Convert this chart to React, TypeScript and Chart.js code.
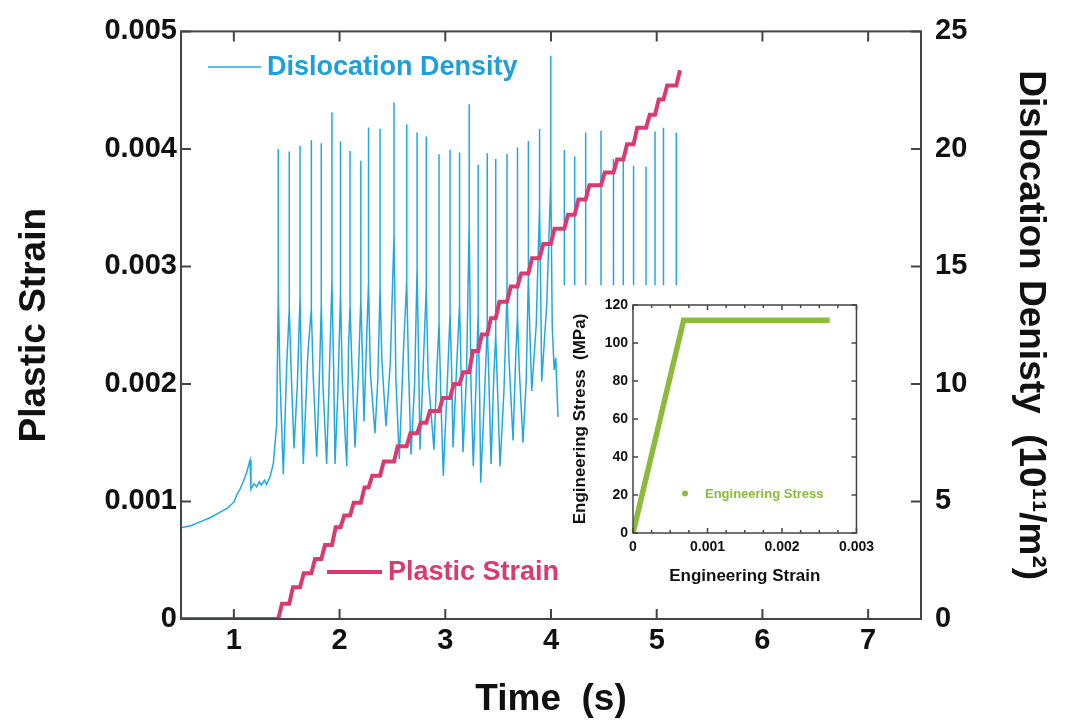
import React, { useEffect, useRef } from "react";
import { Chart, registerables } from "chart.js";

Chart.register(...registerables);

const FONT_FAMILY = '"Liberation Sans", Arial, Helvetica, sans-serif';
const BLUE = "#22A8E1";
const BLUE_TEXT = "#1C9FDA";
const PINK = "#DA3A6E";
const GREEN = "#8CBB3C";
const AXIS = "#444444";

// ---------------- main chart data ----------------
const timeTicks = [1, 2, 3, 4, 5, 6, 7];
const strainTicks = [0, 0.001, 0.002, 0.003, 0.004, 0.005];
const strainTickLabels = ["0", "0.001", "0.002", "0.003", "0.004", "0.005"];
const densityTicks = [0, 5, 10, 15, 20, 25];

// dislocation density before the oscillations (10^11 / m^2)
const earlyTimes = [0.5, 0.6, 0.68, 0.78, 0.87, 0.94, 1.0, 1.03, 1.06, 1.09, 1.12, 1.153, 1.162, 1.19, 1.216, 1.24, 1.26, 1.29, 1.31, 1.342, 1.373, 1.389, 1.405];
const earlyDensity = [3.88, 3.98, 4.13, 4.32, 4.55, 4.72, 4.97, 5.3, 5.54, 5.85, 6.22, 6.76, 5.52, 5.75, 5.62, 5.85, 5.7, 5.9, 5.72, 6.05, 6.6, 7.43, 8.26];

// oscillation cycles: spike, shoulder, trough, recovery bump
const spikeTimes = [1.42, 1.524, 1.626, 1.733, 1.827, 1.928, 2.009, 2.099, 2.201, 2.274, 2.383, 2.515, 2.635, 2.733, 2.82, 2.941, 3.045, 3.135, 3.226, 3.311, 3.397, 3.477, 3.584, 3.683, 3.786, 3.892, 3.998];
const spikePeaks = [19.99, 19.89, 20.13, 20.37, 20.24, 21.55, 20.32, 19.91, 19.5, 20.91, 20.86, 21.97, 21.05, 20.7, 20.53, 19.77, 19.97, 19.85, 21.9, 19.33, 19.82, 19.57, 19.78, 20.06, 20.34, 20.86, 23.96];
const spikeBases = [13.9, 13.2, 13.7, 13.2, 13.4, 14.4, 13.9, 13.3, 13.6, 14.3, 14.1, 16.4, 14.4, 14.9, 14.1, 12.6, 13.0, 13.4, 16.8, 13.0, 12.5, 12.1, 13.9, 12.9, 14.6, 17.6, 18.7];
const shoulderTimes = [1.437, 1.54, 1.642, 1.75, 1.843, 1.944, 2.026, 2.116, 2.216, 2.291, 2.4, 2.533, 2.652, 2.748, 2.838, 2.958, 3.06, 3.15, 3.243, 3.325, 3.413, 3.494, 3.602, 3.7, 3.8, 3.905];
const shoulderValues = [10.2, 10.8, 9.6, 10.4, 9.9, 10.6, 10.1, 10.9, 11.2, 10.5, 11.0, 10.2, 10.7, 11.0, 10.3, 9.4, 10.6, 10.4, 10.0, 9.5, 10.1, 9.8, 11.1, 10.6, 12.2, 13.0];
const troughTimes = [1.468, 1.569, 1.657, 1.784, 1.878, 1.957, 2.068, 2.146, 2.231, 2.335, 2.439, 2.565, 2.676, 2.761, 2.893, 2.981, 3.073, 3.168, 3.265, 3.335, 3.433, 3.518, 3.641, 3.735, 3.818, 3.912];
const troughValues = [6.15, 7.26, 6.6, 6.9, 6.6, 6.6, 6.5, 7.3, 8.4, 7.9, 8.2, 6.8, 7.0, 7.2, 7.2, 6.1, 7.3, 7.1, 6.5, 5.8, 6.6, 6.5, 7.6, 7.5, 9.7, 10.1];
const bumpTimes = [1.5, 1.6, 1.7, 1.808, 1.905, 1.985, 2.085, 2.178, 2.255, 2.362, 2.48, 2.605, 2.71, 2.795, 2.92, 3.015, 3.108, 3.2, 3.29, 3.37, 3.458, 3.555, 3.665, 3.765, 3.86, 3.96];
const bumpValues = [10.8, 9.9, 11.3, 10.1, 10.7, 9.8, 11.6, 10.4, 11.8, 10.2, 10.9, 11.5, 10.0, 11.2, 10.6, 9.6, 10.8, 10.3, 9.9, 9.4, 10.2, 9.7, 11.0, 10.1, 12.5, 13.4];
const tailTimes = [4.012, 4.03, 4.045, 4.066];
const tailDensity = [12.4, 10.6, 11.1, 8.6];

// late isolated spikes
const lateSpikeTimes = [4.126, 4.224, 4.328, 4.473, 4.591, 4.684, 4.781, 4.899, 4.984, 5.064, 5.185];
const lateSpikePeaks = [19.95, 19.69, 20.7, 20.76, 19.57, 19.53, 19.28, 19.24, 20.74, 20.9, 20.69];
const lateSpikeBase = 14.2;

// plastic strain staircase
const strainFlatTimes = [0.5, 1.4];
const strainLevels = [
  0.00013, 0.00027, 0.00039, 0.00051, 0.00063, 0.00078, 0.00088, 0.00099, 0.00112, 0.00122,
  0.00134, 0.00147, 0.00158, 0.00167, 0.00177, 0.00188, 0.002, 0.0021, 0.00228, 0.00242,
  0.00256, 0.0027, 0.00283, 0.00294, 0.00307, 0.00319, 0.00332, 0.00344, 0.00357, 0.00369,
  0.0038, 0.00391, 0.00404, 0.00418, 0.00429, 0.00442, 0.00454, 0.00467,
];
const STEP_RISE = 0.035;

// ---------------- inset data ----------------
const insetStrain = [0, 0.00068, 0.00264];
const insetStress = [0, 112, 112];
const insetXTicks = [0, 0.001, 0.002, 0.003];
const insetXTickLabels = ["0", "0.001", "0.002", "0.003"];
const insetXMinor = [0.00025, 0.0005, 0.00075, 0.00125, 0.0015, 0.00175, 0.00225, 0.0025, 0.00275];
const insetYTicks = [0, 20, 40, 60, 80, 100, 120];

type Pt = { x: number; y: number | null };

function buildDensity(): Pt[] {
  const pts: Pt[] = [];
  earlyTimes.forEach((t, i) => pts.push({ x: t, y: earlyDensity[i] }));
  spikeTimes.forEach((t, i) => {
    pts.push({ x: t, y: spikeBases[i] });
    pts.push({ x: t, y: spikePeaks[i] });
    pts.push({ x: t, y: spikeBases[i] });
    if (i < troughTimes.length) {
      pts.push({ x: shoulderTimes[i], y: shoulderValues[i] });
      pts.push({ x: troughTimes[i], y: troughValues[i] });
      pts.push({ x: bumpTimes[i], y: bumpValues[i] });
    }
  });
  tailTimes.forEach((t, i) => pts.push({ x: t, y: tailDensity[i] }));
  pts.push({ x: tailTimes[tailTimes.length - 1], y: null });
  lateSpikeTimes.forEach((t, i) => {
    pts.push({ x: t, y: lateSpikeBase });
    pts.push({ x: t, y: lateSpikePeaks[i] });
    pts.push({ x: t, y: null });
  });
  return pts;
}

function buildStrain(): Pt[] {
  const pts: Pt[] = strainFlatTimes.map((t) => ({ x: t, y: 0 }));
  const stepTimes = [...spikeTimes, ...lateSpikeTimes];
  let prev = 0;
  stepTimes.forEach((t, i) => {
    pts.push({ x: t, y: prev });
    pts.push({ x: t + STEP_RISE, y: strainLevels[i] });
    prev = strainLevels[i];
  });
  return pts;
}

type Mark = { scale: string; side: "top" | "bottom" | "left" | "right"; len: number; values: number[] };

function framePlugin(id: string, marks: Mark[], width: number) {
  return {
    id,
    afterDraw(chart: any) {
      const { ctx, chartArea: a, scales } = chart;
      ctx.save();
      ctx.strokeStyle = AXIS;
      ctx.lineWidth = width;
      ctx.strokeRect(a.left, a.top, a.right - a.left, a.bottom - a.top);
      ctx.beginPath();
      marks.forEach((m) => {
        const s = scales[m.scale];
        m.values.forEach((v) => {
          const p = s.getPixelForValue(v);
          if (m.side === "bottom") { ctx.moveTo(p, a.bottom); ctx.lineTo(p, a.bottom - m.len); }
          if (m.side === "top") { ctx.moveTo(p, a.top); ctx.lineTo(p, a.top + m.len); }
          if (m.side === "left") { ctx.moveTo(a.left, p); ctx.lineTo(a.left + m.len, p); }
          if (m.side === "right") { ctx.moveTo(a.right, p); ctx.lineTo(a.right - m.len, p); }
        });
      });
      ctx.stroke();
      ctx.restore();
    },
  };
}

const mainLegendPlugin = {
  id: "mainLegend",
  afterDraw(chart: any) {
    const ctx = chart.ctx;
    ctx.save();
    ctx.lineCap = "butt";
    ctx.font = `bold 27px ${FONT_FAMILY}`;
    ctx.textBaseline = "middle";
    ctx.textAlign = "left";
    ctx.strokeStyle = BLUE;
    ctx.lineWidth = 1.5;
    ctx.beginPath(); ctx.moveTo(208, 67); ctx.lineTo(261, 67); ctx.stroke();
    ctx.fillStyle = BLUE_TEXT;
    ctx.fillText("Dislocation Density", 267, 68);
    ctx.strokeStyle = PINK;
    ctx.lineWidth = 4;
    ctx.beginPath(); ctx.moveTo(327, 572); ctx.lineTo(382, 572); ctx.stroke();
    ctx.fillStyle = PINK;
    ctx.fillText("Plastic Strain", 388, 573);
    ctx.restore();
  },
};

const insetLegendPlugin = {
  id: "insetLegend",
  afterDraw(chart: any) {
    const ctx = chart.ctx;
    ctx.save();
    ctx.fillStyle = GREEN;
    ctx.beginPath(); ctx.arc(125, 203.5, 3, 0, Math.PI * 2); ctx.fill();
    ctx.font = `bold 13px ${FONT_FAMILY}`;
    ctx.textBaseline = "middle";
    ctx.textAlign = "left";
    ctx.fillText("Engineering Stress", 145, 204);
    ctx.restore();
  },
};

function font(size: number) {
  return { family: FONT_FAMILY, size, weight: "bold" as const };
}

export default function App() {
  const mainRef = useRef<HTMLCanvasElement | null>(null);
  const insetRef = useRef<HTMLCanvasElement | null>(null);

  useEffect(() => {
    const main = new Chart(mainRef.current as HTMLCanvasElement, {
      type: "line",
      data: {
        datasets: [
          {
            label: "Dislocation Density",
            data: buildDensity() as any,
            yAxisID: "y2",
            borderColor: BLUE,
            borderWidth: 1.5,
            pointRadius: 0,
            spanGaps: false,
            tension: 0,
            order: 1,
          },
          {
            label: "Plastic Strain",
            data: buildStrain() as any,
            yAxisID: "y",
            borderColor: PINK,
            borderWidth: 4,
            pointRadius: 0,
            tension: 0,
            order: 0,
          },
        ],
      },
      options: {
        animation: false,
        responsive: false,
        maintainAspectRatio: false,
        layout: { padding: { top: 21, left: 0, right: 0, bottom: 0 } },
        plugins: { legend: { display: false }, tooltip: { enabled: false } },
        scales: {
          x: {
            type: "linear",
            position: "bottom",
            min: 0.5,
            max: 7.5,
            afterBuildTicks: (s: any) => { s.ticks = timeTicks.map((v) => ({ value: v })); },
            afterFit: (s: any) => { s.height = 109; },
            grid: { display: false, drawTicks: false },
            border: { display: false },
            ticks: { font: font(29), color: "#111", padding: 5, maxRotation: 0, autoSkip: false },
            title: { display: true, text: "Time  (s)", font: font(37), color: "#111", padding: { top: 0, bottom: 6 } },
          },
          y: {
            type: "linear",
            position: "left",
            min: 0,
            max: 0.005,
            afterBuildTicks: (s: any) => { s.ticks = strainTicks.map((v) => ({ value: v })); },
            afterFit: (s: any) => { s.width = 181; },
            grid: { display: false, drawTicks: false },
            border: { display: false },
            ticks: { font: font(29), color: "#111", padding: 4, autoSkip: false, callback: (_v: any, i: number) => strainTickLabels[i] },
            title: { display: true, text: "Plastic Strain", font: font(37), color: "#111", padding: { top: 13, bottom: 0 } },
          },
          y2: {
            type: "linear",
            position: "right",
            min: 0,
            max: 25,
            afterBuildTicks: (s: any) => { s.ticks = densityTicks.map((v) => ({ value: v })); },
            afterFit: (s: any) => { s.width = 144; },
            grid: { display: false, drawTicks: false },
            border: { display: false },
            ticks: { font: font(29), color: "#111", padding: 14, autoSkip: false },
            title: { display: true, text: "Dislocation Denisty  (10¹¹/m²)", font: font(37), color: "#111", padding: { top: 13, bottom: 0 } },
          },
        },
      },
      plugins: [
        framePlugin("mainFrame", [
          { scale: "x", side: "bottom", len: 10, values: timeTicks },
          { scale: "x", side: "top", len: 10, values: timeTicks },
          { scale: "y", side: "left", len: 10, values: strainTicks },
          { scale: "y2", side: "right", len: 10, values: densityTicks },
        ], 2),
        mainLegendPlugin,
      ],
    });

    const inset = new Chart(insetRef.current as HTMLCanvasElement, {
      type: "line",
      data: {
        datasets: [
          {
            label: "Engineering Stress",
            data: insetStrain.map((x, i) => ({ x, y: insetStress[i] })) as any,
            borderColor: GREEN,
            borderWidth: 5.5,
            pointRadius: 0,
            tension: 0,
          },
        ],
      },
      options: {
        animation: false,
        responsive: false,
        maintainAspectRatio: false,
        layout: { padding: { top: 15, left: 0, right: 20, bottom: 0 } },
        plugins: { legend: { display: false }, tooltip: { enabled: false } },
        scales: {
          x: {
            type: "linear",
            min: 0,
            max: 0.003,
            afterBuildTicks: (s: any) => { s.ticks = insetXTicks.map((v) => ({ value: v })); },
            afterFit: (s: any) => { s.height = 57; },
            grid: { display: false, drawTicks: false },
            border: { display: false },
            ticks: { font: font(14), color: "#111", padding: 6, maxRotation: 0, autoSkip: false, callback: (_v: any, i: number) => insetXTickLabels[i] },
            title: { display: true, text: "Engineering Strain", font: font(17), color: "#111", padding: { top: 0, bottom: 3 } },
          },
          y: {
            type: "linear",
            min: 0,
            max: 120,
            afterBuildTicks: (s: any) => { s.ticks = insetYTicks.map((v) => ({ value: v })); },
            afterFit: (s: any) => { s.width = 73; },
            grid: { display: false, drawTicks: false },
            border: { display: false },
            ticks: { font: font(14), color: "#111", padding: 5, autoSkip: false },
            title: { display: true, text: "Engineering Stress  (MPa)", font: font(17), color: "#111", padding: { top: 10, bottom: 0 } },
          },
        },
      },
      plugins: [
        framePlugin("insetFrame", [
          { scale: "x", side: "bottom", len: 5, values: insetXTicks },
          { scale: "x", side: "bottom", len: 3, values: insetXMinor },
          { scale: "x", side: "top", len: 5, values: insetXTicks },
          { scale: "x", side: "top", len: 3, values: insetXMinor },
          { scale: "y", side: "left", len: 5, values: insetYTicks },
          { scale: "y", side: "right", len: 5, values: insetYTicks },
        ], 1.5),
        insetLegendPlugin,
      ],
    });

    return () => {
      main.destroy();
      inset.destroy();
    };
  }, []);

  return (
    <div style={{ position: "absolute", left: 0, top: 0, width: 1065, height: 728, background: "#fff" }}>
      <canvas ref={mainRef} width={1065} height={728} style={{ position: "absolute", left: 0, top: 0, width: 1065, height: 728, display: "block" }} />
      <canvas ref={insetRef} width={320} height={300} style={{ position: "absolute", left: 560, top: 290, width: 320, height: 300, display: "block" }} />
    </div>
  );
}
